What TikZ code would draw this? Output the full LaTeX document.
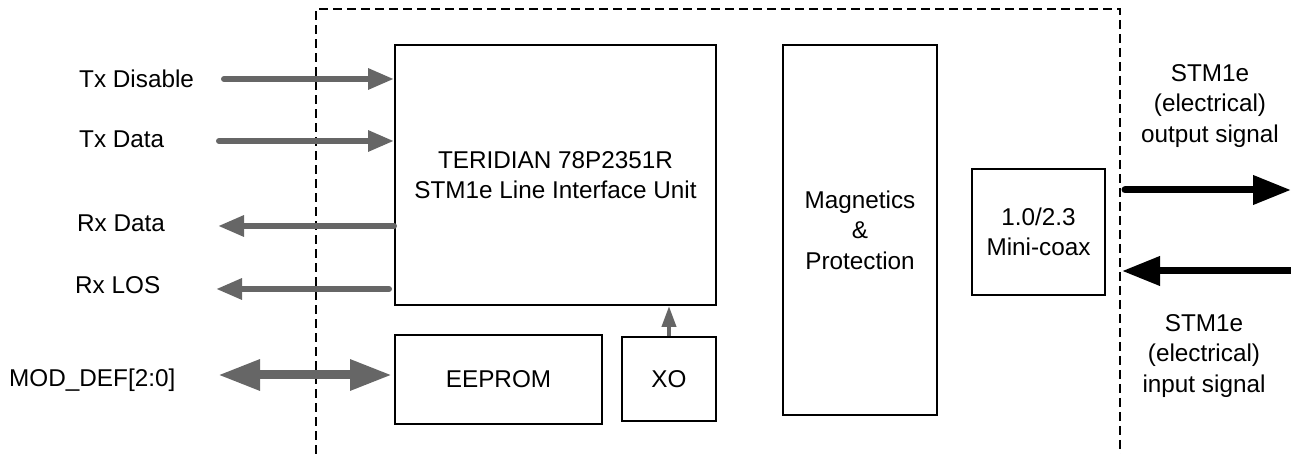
\documentclass[tikz,border=0pt]{standalone}
\usepackage{fontspec}
\setmainfont{Liberation Sans}
\usetikzlibrary{positioning,arrows.meta}
\definecolor{sigGray}{RGB}{102,102,102}

\begin{document}
\begin{tikzpicture}[x=1pt,y=1pt,
    font=\fontsize{24.3}{30.5}\selectfont,
    block/.style={draw,line width=2pt,inner sep=0pt,align=center},
    lbl/.style={inner sep=0pt,anchor=west},
    sig/.style={sigGray,line width=6pt,line cap=round,-{Triangle[length=26pt,width=20pt]}},
    bus/.style={sigGray,line width=9pt,{Triangle[length=42pt,width=29pt]}-{Triangle[length=42pt,width=29pt]}},
    clk/.style={sigGray,line width=4pt,-{Triangle[length=21pt,width=14pt]}},
    line/.style={black,line width=7pt,line cap=round,-{Triangle[length=38pt,width=28pt]}}]
  \useasboundingbox (0,0) rectangle (1291,454);
  \draw[dashed,line width=1.5pt,dash pattern=on 9pt off 5pt] (316,0) -- (316,445) -- (1120,445) -- (1120,0);
  \node[block,minimum width=321pt,minimum height=260pt] (liu) at (555.5,279) {TERIDIAN 78P2351R\\STM1e Line Interface Unit};
  \node[block,minimum width=207pt,minimum height=89pt] (eeprom) at (498.5,74.5) {EEPROM};
  \node[block,minimum width=94pt,minimum height=84pt] (xo) at (669,75) {XO};
  \node[block,minimum width=154pt,minimum height=370pt] (mag) at (860,224) {Magnetics\\\&\\Protection};
  \node[block,minimum width=133pt,minimum height=126pt] (coax) at (1038.5,222) {1.0/2.3\\Mini-coax};
  \node[lbl] (txdis) at (79,375) {Tx Disable};
  \node[lbl] (txdat) at (79,315) {Tx Data};
  \node[lbl] (rxdat) at (77,231) {Rx Data};
  \node[lbl] (rxlos) at (75,169) {Rx LOS};
  \node[lbl] (moddef) at (9,74) {MOD\_DEF[2:0]};
  \node[align=center,inner sep=0pt] (outsig) at (1210,348) {STM1e\\(electrical)\\output signal};
  \node[align=center,inner sep=0pt] (insig) at (1204,98) {STM1e\\(electrical)\\input signal};
  \coordinate (txdis-s) at (224,375);
  \coordinate (txdat-s) at (219,313);
  \coordinate (rxdat-e) at (218,228);
  \coordinate (rxlos-s) at (389,165);
  \coordinate (rxlos-e) at (216,165);
  \coordinate (mod-s) at (218,79);
  \coordinate (mod-e) at (392,79);
  \coordinate (out-s) at (1125,264);
  \coordinate (out-e) at (1291,264);
  \coordinate (in-s) at (1291,183);
  \coordinate (in-e) at (1122,183);
  \draw[sig] (txdis-s) -- (liu.west |- txdis-s);
  \draw[sig] (txdat-s) -- (liu.west |- txdat-s);
  \draw[sig] (liu.west |- rxdat-e) -- (rxdat-e);
  \draw[sig] (rxlos-s) -- (rxlos-e);
  \draw[bus] (mod-s) -- (mod-e);
  \draw[clk] (xo.north) -- (xo.north |- liu.south);
  \draw[line] (out-s) -- (out-e);
  \draw[line] (in-s) -- (in-e);
\end{tikzpicture}
\end{document}
